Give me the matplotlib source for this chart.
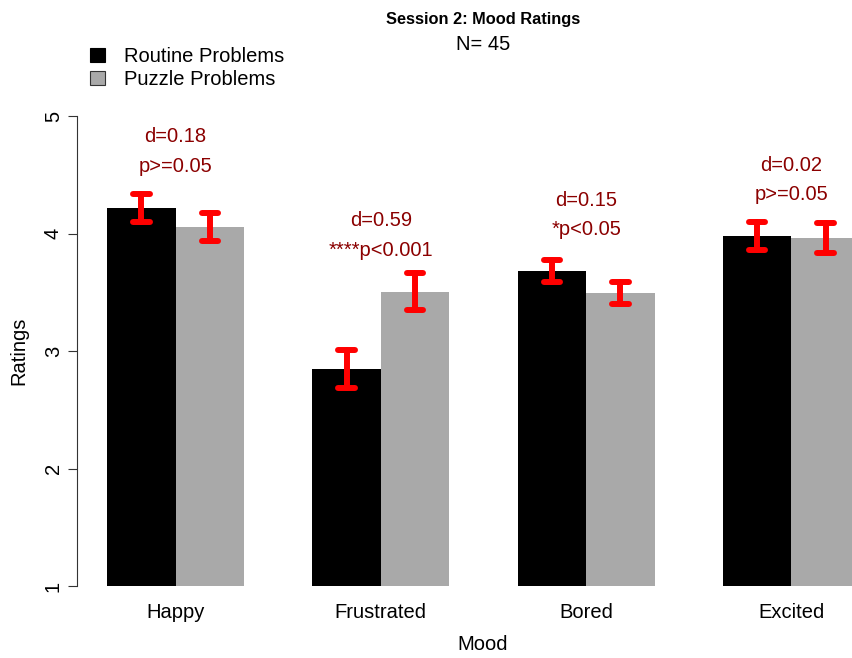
import numpy as np
import matplotlib
matplotlib.use("Agg")
import matplotlib.pyplot as plt
from matplotlib.patches import Patch

plt.rcParams["font.family"] = ["Liberation Sans", "DejaVu Sans"]

# mood ratings, session 2
moods = ["Happy", "Frustrated", "Bored", "Excited"]
routine_mean = [4.22, 2.845, 3.683, 3.981]
routine_se = [0.12, 0.16, 0.092, 0.12]
puzzle_mean = [4.053, 3.505, 3.494, 3.962]
puzzle_se = [0.12, 0.16, 0.094, 0.125]
d_vals = [0.18, 0.59, 0.15, 0.02]
p_labels = ["p>=0.05", "****p<0.001", "*p<0.05", "p>=0.05"]
n_subjects = 45

W, H = 852, 658
fig = plt.figure(figsize=(W / 100, H / 100), dpi=100)

# plot region in pixels (it runs past the right edge of the image)
left, right, top, bottom = 77, 890, 116, 586
ax = fig.add_axes([left / W, 1 - bottom / H, (right - left) / W, (bottom - top) / H])

# R-style beside barplot: bar width 1, one unit gap between groups
grp = np.arange(len(moods))
x_routine = 1.5 + 3 * grp
x_puzzle = 2.5 + 3 * grp
centers = 2 + 3 * grp

ax.bar(x_routine, routine_mean, width=1.0, color="black", linewidth=0)
ax.bar(x_puzzle, puzzle_mean, width=1.0, color="#A9A9A9", linewidth=0)

cap = 0.12
lw = 4.3
for xs, m, se in [(x_routine, routine_mean, routine_se), (x_puzzle, puzzle_mean, puzzle_se)]:
    m = np.array(m)
    se = np.array(se)
    ax.vlines(xs, m - se, m + se, color="red", lw=lw, capstyle="round", zorder=3)
    ax.hlines(m + se, xs - cap, xs + cap, color="red", lw=lw, capstyle="round", zorder=3)
    ax.hlines(m - se, xs - cap, xs + cap, color="red", lw=lw, capstyle="round", zorder=3)

# effect size and significance above each pair
for i in grp:
    y0 = max(routine_mean[i], puzzle_mean[i])
    ax.text(centers[i], y0 + 0.555, f"d={d_vals[i]:.2f}", color="#8B0000",
            fontsize=14.5, ha="center", va="baseline")
    ax.text(centers[i], y0 + 0.305, p_labels[i], color="#8B0000",
            fontsize=14.5, ha="center", va="baseline")

ax.set_xlim(0.56, 12.44)
ax.set_ylim(1, 5)
for s in ["top", "right", "bottom"]:
    ax.spines[s].set_visible(False)
ax.spines["left"].set_color("#333333")
ax.spines["left"].set_linewidth(0.8)

ax.set_yticks([1, 2, 3, 4, 5])
ax.set_yticklabels(["1", "2", "3", "4", "5"], rotation=90, va="center", fontsize=14.5)
ax.tick_params(axis="y", length=6.5, width=0.8, color="#333333", pad=3.6)
ax.set_xticks(centers)
ax.set_xticklabels(moods, fontsize=14.5)
ax.tick_params(axis="x", length=0, pad=12)

fig.text(483 / W, 1 - 650 / H, "Mood", fontsize=14.5, ha="center", va="baseline")
fig.text(19 / W, 1 - 351 / H, "Ratings", fontsize=14.5, rotation=90, ha="center", va="center")
fig.text(483 / W, 1 - 24 / H, "Session 2: Mood Ratings", fontsize=11.8,
         fontweight="bold", ha="center", va="baseline")
fig.text(483 / W, 1 - 50 / H, f"N= {n_subjects}", fontsize=14.5, ha="center", va="baseline")

handles = [Patch(facecolor="black", edgecolor="black", linewidth=0.8),
           Patch(facecolor="#A9A9A9", edgecolor="#333333", linewidth=0.8)]
fig.legend(handles, ["Routine Problems", "Puzzle Problems"], loc="upper left",
           bbox_to_anchor=(90 / W, 1 - 47 / H), bbox_transform=fig.transFigure,
           frameon=False, borderpad=0, borderaxespad=0, fontsize=14.5,
           handlelength=0.72, handleheight=0.68, handletextpad=0.95, labelspacing=0.22)

fig.savefig("out.png", dpi=100)
